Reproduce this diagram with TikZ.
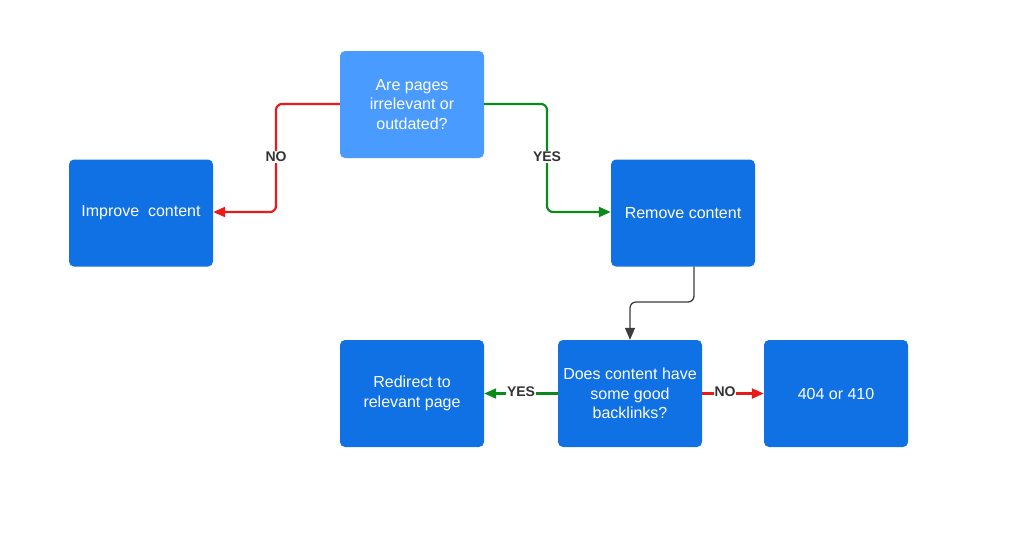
\documentclass[tikz,border=0pt]{standalone}
\usepackage{fontspec}
\setmainfont{Liberation Sans}
\usetikzlibrary{arrows.meta}
\definecolor{boxdark}{HTML}{1071E5}
\definecolor{boxlight}{HTML}{4A9BFF}
\definecolor{lnred}{HTML}{E81B1B}
\definecolor{lngreen}{HTML}{0A8A1A}
\definecolor{lngray}{HTML}{3C3C3C}
\definecolor{lbl}{HTML}{333333}
\begin{document}
\begin{tikzpicture}[x=1pt,y=-1pt,
  box/.style={draw=none,fill=boxdark,rounded corners=5pt,minimum width=144pt,minimum height=107pt,text=white,align=center,font=\fontsize{16}{19.5}\selectfont,inner sep=2pt},
  lab/.style={fill=white,text=lbl,font=\bfseries\fontsize{14}{15}\selectfont,inner sep=0.8pt},
  conn/.style={line width=2.2pt,rounded corners=6pt,-{Triangle[length=12pt,width=10pt]}}]
\useasboundingbox (0,0) rectangle (1024,542);
\node[box,fill=boxlight] (q1) at (412,104.5) {Are pages\\irrelevant or\\outdated?};
\node[box] (imp) at (141,213) {Improve\ \ content};
\node[box] (rem) at (683,213) {Remove content};
\node[box] (q2) at (630,393.5) {Does content have\\some good\\backlinks?};
\node[box] (red) at (412,393.5) {Redirect to\\relevant page};
\node[box] (gone) at (836,393.5) {404 or 410};
\coordinate (n1) at (276,104);
\coordinate (n2) at (276,212);
\coordinate (y1) at (547,104);
\coordinate (y2) at (547,212);
\coordinate (g1) at (694,302);
\coordinate (g2) at (630,302);
\draw[conn,color=lnred] (q1.west |- n1) -- (n1) -- (n2) -- (imp.east |- n2);
\draw[conn,color=lngreen] (q1.east |- y1) -- (y1) -- (y2) -- (rem.west |- y2);
\draw[conn,color=lngray,line width=1.3pt] (rem.south -| g1) -- (g1) -- (g2) -- (q2.north);
\draw[conn,color=lngreen] (q2.west) -- (red.east);
\draw[conn,color=lnred] (q2.east) -- (gone.west);
\node[lab] (lno1) at (276,157) {NO};
\node[lab] (lyes1) at (547,157) {YES};
\node[lab] (lyes2) at (521,392) {YES};
\node[lab] (lno2) at (725,392) {NO};
\end{tikzpicture}
\end{document}
